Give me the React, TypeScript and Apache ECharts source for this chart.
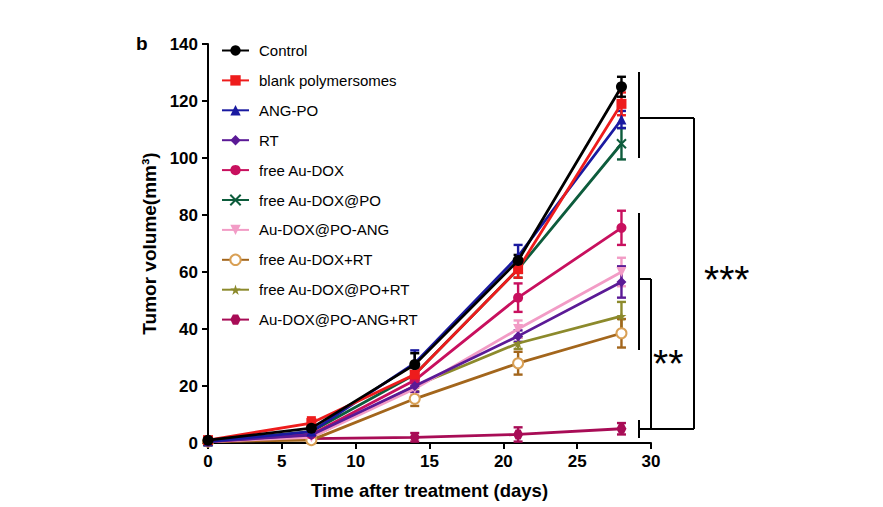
import React, { useEffect, useRef } from "react";
import * as echarts from "echarts";

const days = [0, 7, 14, 21, 28];
const xTicks = [0, 5, 10, 15, 20, 25, 30];
const yTicks = [0, 20, 40, 60, 80, 100, 120, 140];

const groupNames = [
  "Control",
  "blank polymersomes",
  "ANG-PO",
  "RT",
  "free Au-DOX",
  "free Au-DOX@PO",
  "Au-DOX@PO-ANG",
  "free Au-DOX+RT",
  "free Au-DOX@PO+RT",
  "Au-DOX@PO-ANG+RT",
];

const control = [1, 5.2, 27.5, 64, 125];
const controlErr = [0.5, 1.5, 4, 2, 3.5];
const blank = [1, 7, 24, 61, 119];
const blankErr = [0.5, 2, 3, 3, 4];
const angPo = [0.5, 4, 28, 65.5, 113.5];
const angPoErr = [0.3, 1, 4.5, 4, 3];
const rt = [0.5, 2.8, 20, 37.5, 56.5];
const rtErr = [0.3, 0.8, 2, 2, 5.5];
const freeAuDox = [0.5, 3, 22, 51, 75.5];
const freeAuDoxErr = [0.3, 1, 2.5, 5, 6];
const freeAuDoxPo = [0.5, 4, 24, 61, 105];
const freeAuDoxPoErr = [0.3, 1, 2.5, 3, 5.5];
const auDoxPoAng = [0.5, 2, 19, 40, 60];
const auDoxPoAngErr = [0.3, 0.8, 2, 3, 5];
const freeAuDoxRt = [0.5, 1, 15.5, 28, 38.5];
const freeAuDoxRtErr = [0.3, 0.5, 2.5, 4, 5];
const freeAuDoxPoRt = [0.5, 2, 20, 35, 44.5];
const freeAuDoxPoRtErr = [0.3, 0.6, 2, 2, 5];
const auDoxPoAngRt = [0.5, 1.5, 2, 3, 5];
const auDoxPoAngRtErr = [0.3, 0.5, 1.5, 2.5, 2];

const means = [control, blank, angPo, rt, freeAuDox, freeAuDoxPo, auDoxPoAng, freeAuDoxRt, freeAuDoxPoRt, auDoxPoAngRt];
const errs = [controlErr, blankErr, angPoErr, rtErr, freeAuDoxErr, freeAuDoxPoErr, auDoxPoAngErr, freeAuDoxRtErr, freeAuDoxPoRtErr, auDoxPoAngRtErr];

const colors = ["#000000", "#ee1c1c", "#1a1aa0", "#5b1a96", "#c8105e", "#0d5c3c", "#f29cc6", "#a3661c", "#8c8a2c", "#a80c56"];

const STAR = "path://M5,0L6.2,3.8L10,3.8L6.9,6.2L8.1,10L5,7.6L1.9,10L3.1,6.2L0,3.8L3.8,3.8Z";
const XMARK = "path://M0,0L10,10M10,0L0,10";
const HEX = "path://M2.5,0L7.5,0L10,5L7.5,10L2.5,10L0,5Z";
const symbols = ["circle", "rect", "triangle", "diamond", "circle", XMARK, "triangle", "emptyCircle", STAR, HEX];
const symbolRotate = [0, 0, 0, 0, 0, 0, 180, 0, 0, 0];
const symbolSizes = [11, 10, 10, 10, 10, 9, 10, 10, 10, 10];

const FONT = 'Arial, "Liberation Sans", sans-serif';

export default function App() {
  const ref = useRef<HTMLDivElement>(null);
  useEffect(() => {
    document.body.style.margin = "0";
    const chart = echarts.init(ref.current!, null, { renderer: "svg" });
    const lineSeries: any[] = [];
    const errSeries: any[] = [];
    groupNames.forEach((name, i) => {
      lineSeries.push({
        name,
        type: "line",
        data: days.map((d, j) => [d, means[i][j]]),
        symbol: symbols[i],
        symbolSize: symbolSizes[i],
        symbolRotate: symbolRotate[i],
        lineStyle: { color: colors[i], width: 2.8 },
        itemStyle: {
          color: symbols[i] === "emptyCircle" ? "#d9a055" : colors[i],
          borderColor: colors[i],
          borderWidth: symbols[i] === XMARK ? 2 : symbols[i] === "emptyCircle" ? 2 : 0,
        },
        z: 3 + (groupNames.length - i) * 0.01,
      });
      errSeries.push({
        name: "err-" + name,
        type: "custom",
        data: days.map((d, j) => [d, means[i][j] - errs[i][j], means[i][j] + errs[i][j]]),
        encode: { x: 0, y: [1, 2] },
        z: 3,
        renderItem: (params: any, api: any) => {
          const x = api.value(0);
          const lo = api.coord([x, api.value(1)]);
          const hi = api.coord([x, api.value(2)]);
          const w = 4.5;
          const style = { stroke: colors[i], lineWidth: 2.4 };
          return {
            type: "group",
            children: [
              { type: "line", shape: { x1: lo[0], y1: lo[1], x2: hi[0], y2: hi[1] }, style },
              { type: "line", shape: { x1: lo[0] - w, y1: lo[1], x2: lo[0] + w, y2: lo[1] }, style },
              { type: "line", shape: { x1: hi[0] - w, y1: hi[1], x2: hi[0] + w, y2: hi[1] }, style },
            ],
          };
        },
      });
    });
    const allSeries = [...lineSeries.slice().reverse(), ...errSeries.slice().reverse()];

    const bk = { stroke: "#000", lineWidth: 2 };
    chart.setOption({
      animation: false,
      backgroundColor: "#ffffff",
      textStyle: { fontFamily: FONT },
      grid: { left: 208, right: 232, top: 44, bottom: 64 },
      legend: {
        data: groupNames,
        orient: "vertical",
        left: 216,
        top: 38,
        itemWidth: 27,
        itemHeight: 13,
        itemGap: 14.9,
        textStyle: { fontFamily: FONT, fontSize: 15, color: "#000", padding: [0, 0, 0, 5], lineHeight: 15 },
        selectedMode: false,
      },
      xAxis: {
        type: "value",
        min: 0,
        max: 30,
        interval: 5,
        name: "Time after treatment (days)",
        nameLocation: "middle",
        nameGap: 38,
        nameTextStyle: { fontFamily: FONT, fontSize: 18.5, fontWeight: "bold", color: "#000" },
        axisLine: { lineStyle: { color: "#000", width: 2 } },
        axisTick: { show: true, length: 6, lineStyle: { color: "#000", width: 2 } },
        axisLabel: { margin: 10, fontFamily: FONT, fontSize: 17, fontWeight: "bold", color: "#000" },
        splitLine: { show: false },
      },
      yAxis: {
        type: "value",
        min: 0,
        max: 140,
        interval: 20,
        name: "Tumor volume(mm³)",
        nameLocation: "middle",
        nameGap: 42,
        nameRotate: 90,
        nameTextStyle: { fontFamily: FONT, fontSize: 19, fontWeight: "bold", color: "#000" },
        axisLine: { show: true, lineStyle: { color: "#000", width: 2 } },
        axisTick: { show: true, length: 6, lineStyle: { color: "#000", width: 2 } },
        axisLabel: { margin: 10, fontFamily: FONT, fontSize: 17, fontWeight: "bold", color: "#000" },
        splitLine: { show: false },
      },
      series: allSeries,
      graphic: [
        { type: "text", left: 136, top: 34, style: { text: "b", font: `bold 19px ${FONT}`, fill: "#000" } },
        // top group bracket
        { type: "line", shape: { x1: 639, y1: 72, x2: 639, y2: 158 }, style: bk },
        { type: "line", shape: { x1: 639, y1: 118, x2: 694, y2: 118 }, style: bk },
        { type: "line", shape: { x1: 694, y1: 118, x2: 694, y2: 429 }, style: bk },
        { type: "line", shape: { x1: 651, y1: 429, x2: 694, y2: 429 }, style: bk },
        // middle group bracket
        { type: "line", shape: { x1: 639, y1: 213, x2: 639, y2: 350 }, style: bk },
        { type: "line", shape: { x1: 639, y1: 279, x2: 651, y2: 279 }, style: bk },
        { type: "line", shape: { x1: 651, y1: 279, x2: 651, y2: 429 }, style: bk },
        // bottom group tick
        { type: "line", shape: { x1: 639, y1: 420, x2: 639, y2: 438 }, style: bk },
        { type: "line", shape: { x1: 639, y1: 429, x2: 651, y2: 429 }, style: bk },
        { type: "text", x: 704, y: 260, style: { text: "***", font: `39px ${FONT}`, fill: "#000" } },
        { type: "text", x: 653, y: 344, style: { text: "**", font: `39px ${FONT}`, fill: "#000" } },
      ],
    });
    return () => chart.dispose();
  }, []);
  return <div ref={ref} style={{ width: 883, height: 507, position: "absolute", left: 0, top: 0 }} />;
}
